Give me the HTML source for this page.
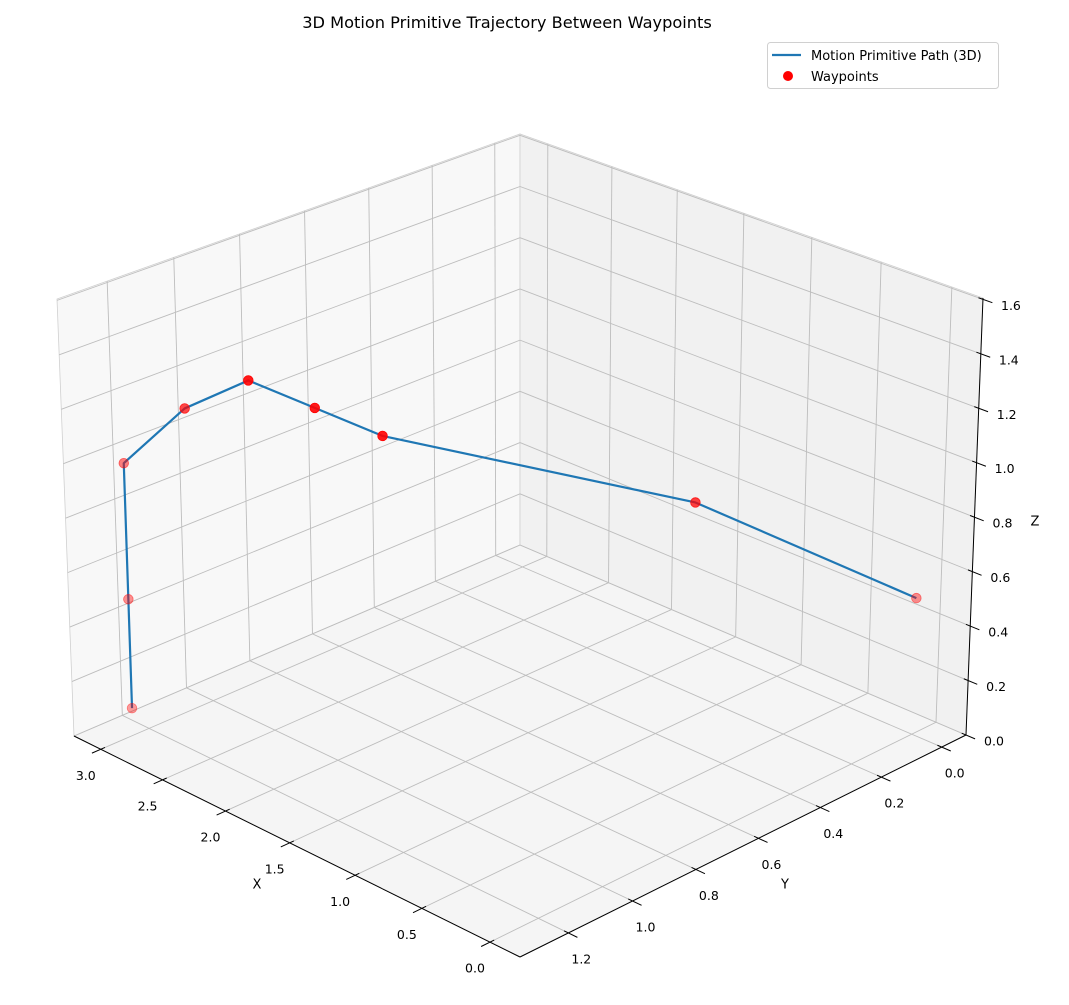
<!DOCTYPE html>
<html><head><meta charset="utf-8"><style>
html,body{margin:0;padding:0;background:#fff;}
svg text{font-family:"DejaVu Sans","Liberation Sans",sans-serif;fill:#000;}
</style></head><body>
<svg id="chart" width="1069" height="1000" viewBox="0 0 1069 1000" xmlns="http://www.w3.org/2000/svg">
<text x="507" y="28" font-size="16.2" text-anchor="middle">3D Motion Primitive Trajectory Between Waypoints</text>
<g id="panes"></g>
<g id="grid"></g>
<g id="axes"></g>
<g id="series"></g>
<g>
<rect x="767.5" y="42.5" width="231" height="46" rx="3" fill="#fff" stroke="#d0d0d0"/>
<line x1="772" y1="55" x2="801" y2="55" stroke="#1f77b4" stroke-width="2.2"/>
<text x="811" y="60" font-size="13">Motion Primitive Path (3D)</text>
<circle cx="788" cy="76" r="5" fill="#ff0000"/>
<text x="811" y="81" font-size="13">Waypoints</text>
</g>
</svg>
<script>
const wpX = [3, 3, 3, 2.5, 2, 1.5, 1, 0.5, 0];
const wpY = [1.25, 1.25, 1.25, 1.25, 1.25, 1.25, 1.25, 0.5, 0];
const wpZ = [0.1, 0.5, 1.0, 1.3, 1.5, 1.5, 1.5, 1.0, 0.5];
const xTicks = [0, 0.5, 1, 1.5, 2, 2.5, 3];
const yTicks = [0, 0.2, 0.4, 0.6, 0.8, 1.0, 1.2];
const zTicks = [0, 0.2, 0.4, 0.6, 0.8, 1.0, 1.2, 1.4, 1.6];
const xLim = [-0.217, 3.220];
const yLim = [-0.0812, 1.349];
const zLim = [0, 1.605];

const NS = "http://www.w3.org/2000/svg";
const CX = 1.07, CY = 0.957;
const C = {R:[[966,735],[983,298]], F:[[520,957],[520,490]], B:[[520,545],[520,134]], L:[[74,736],[57,299]]};
function persp(t,c){return c*t/(1+(c-1)*t);}
function proj(x,y,z){
  const u = persp((x-xLim[0])/(xLim[1]-xLim[0]), CX);
  const v = persp((y-yLim[0])/(yLim[1]-yLim[0]), CY);
  const w = (z-zLim[0])/(zLim[1]-zLim[0]);
  const a=(1-u)*(1-v), b=(1-u)*v, c=u*(1-v), d=u*v;
  const out=[0,0];
  for(let k=0;k<2;k++){
    const bot=a*C.R[0][k]+b*C.F[0][k]+c*C.B[0][k]+d*C.L[0][k];
    const top=a*C.R[1][k]+b*C.F[1][k]+c*C.B[1][k]+d*C.L[1][k];
    out[k]=bot+(top-bot)*w;
  }
  return out;
}
function mk(tag, parent, attrs){
  const el=document.createElementNS(NS,tag);
  for(const k in attrs) el.setAttribute(k, attrs[k]);
  document.getElementById(parent).appendChild(el);
  return el;
}
function pts(arr){return arr.map(p=>p.join(',')).join(' ');}
const X0=xLim[0],X1=xLim[1],Y0=yLim[0],Y1=yLim[1],Z0=zLim[0],Z1=zLim[1];

let p;
p=mk('polygon','panes',{points:pts([proj(X0,Y0,Z0),proj(X0,Y1,Z0),proj(X1,Y1,Z0),proj(X1,Y0,Z0)]),fill:'#f5f5f5',stroke:'#d0d0d0','stroke-width':0.8});


p=mk('polygon','panes',{points:pts([proj(X1,Y0,Z0),proj(X1,Y1,Z0),proj(X1,Y1,Z1),proj(X1,Y0,Z1)]),fill:'#f8f8f8',stroke:'#d0d0d0','stroke-width':0.8});


p=mk('polygon','panes',{points:pts([proj(X0,Y0,Z0),proj(X1,Y0,Z0),proj(X1,Y0,Z1),proj(X0,Y0,Z1)]),fill:'#f1f1f1',stroke:'#d0d0d0','stroke-width':0.8});



function gline(a,b,name){
  const l=mk('line','grid',{x1:a[0],y1:a[1],x2:b[0],y2:b[1],stroke:'#bdbdbd','stroke-width':0.9});
  
  
}
xTicks.forEach(x=>{gline(proj(x,Y0,Z0),proj(x,Y1,Z0),'x-gridline-floor');gline(proj(x,Y0,Z0),proj(x,Y0,Z1),'x-gridline-wall');});
yTicks.forEach(y=>{gline(proj(X0,y,Z0),proj(X1,y,Z0),'y-gridline-floor');gline(proj(X1,y,Z0),proj(X1,y,Z1),'y-gridline-wall');});
zTicks.forEach(z=>{gline(proj(X1,Y0,z),proj(X1,Y1,z),'z-gridline-left');gline(proj(X0,Y0,z),proj(X1,Y0,z),'z-gridline-right');});

function aline(a,b,name,w){
  const l=mk('line','axes',{x1:a[0],y1:a[1],x2:b[0],y2:b[1],stroke:'#000','stroke-width':w});
  
  
}
function label(x,y,txt,name,size){
  const t=mk('text','axes',{x:x,y:y,'font-size':size,'text-anchor':'middle','dominant-baseline':'central'});
  t.textContent=txt;
  
  
}
aline(proj(X0,Y1,Z0),proj(X1,Y1,Z0),'x-axis-line',1);
aline(proj(X0,Y0,Z0),proj(X0,Y1,Z0),'y-axis-line',1);
aline(proj(X0,Y0,Z0),proj(X0,Y0,Z1),'z-axis-line',1);
const dy=Y1-Y0, dx=X1-X0;
xTicks.forEach(x=>{
  const a=proj(x,Y1-0.009*dy,Z0), b=proj(x,Y1+0.019*dy,Z0), c=proj(x,Y1,Z0);
  aline(a,b,'x-tick',1);
  label(c[0]-15,c[1]+26,x.toFixed(1),'x-tick-label',12.5);
});
yTicks.forEach(y=>{
  const a=proj(X0+0.009*dx,y,Z0), b=proj(X0-0.019*dx,y,Z0), c=proj(X0,y,Z0);
  aline(a,b,'y-tick',1);
  label(c[0]+13,c[1]+26,y.toFixed(1),'y-tick-label',12.5);
});
zTicks.forEach(z=>{
  const a=proj(X0+0.009*dx,Y0,z), b=proj(X0-0.019*dx,Y0,z), c=proj(X0,Y0,z);
  aline(a,b,'z-tick',1);
  label(c[0]+28,c[1]+6,z.toFixed(1),'z-tick-label',12.5);
});
label(257,885,'X','x-axis-title',13);
label(785,885,'Y','y-axis-title',13);
label(1035,522,'Z','z-axis-title',13);

const sp=wpX.map((x,i)=>proj(x,wpY[i],wpZ[i]));
const path=mk('polyline','series',{points:pts(sp),fill:'none',stroke:'#1f77b4','stroke-width':2.2,'stroke-linejoin':'round'});


wpX.forEach((x,i)=>{
  const u=persp((x-X0)/dx,CX), v=persp((wpY[i]-Y0)/dy,CY), w=(wpZ[i]-Z0)/(Z1-Z0);
  const near=(1-u)+v+0.15*w;
  const alpha=Math.max(0.35,Math.min(1,0.35+(near-0.95)*1.5));
  const c=mk('circle','series',{cx:sp[i][0],cy:sp[i][1],r:4.8,fill:'#ff0000','fill-opacity':alpha*0.9,stroke:'#ff0000','stroke-opacity':alpha,'stroke-width':0.8});
  
  
});
</script>
</body></html>
